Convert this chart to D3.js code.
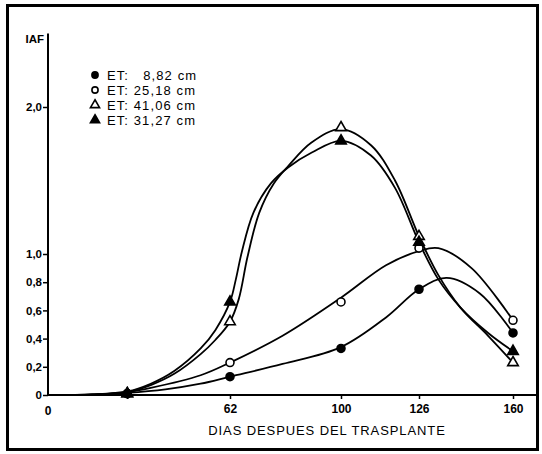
<!DOCTYPE html>
<html><head><meta charset="utf-8">
<script src="https://cdn.jsdelivr.net/npm/d3@7"></script>
<style>
body{margin:0;background:#fff;}
svg{display:block;font-family:"Liberation Sans",Arial,Helvetica,sans-serif;}
</style></head>
<body><svg id="c" width="542" height="454"></svg>
<script>
// ---- data ----
const sampleDays = [27, 62, 100, 126, 160];
const seriesLabels = ["ET:   8,82 cm", "ET: 25,18 cm", "ET: 41,06 cm", "ET: 31,27 cm"];
const et882  = [0.01, 0.13, 0.33, 0.75, 0.44];
const et2518 = [0.01, 0.23, 0.66, 1.04, 0.53];
const et4106 = [0.01, 0.52, 1.86, 1.12, 0.23];
const et3127 = [0.01, 0.66, 1.77, 1.08, 0.31];

// hand-drawn fitted curves
const fitDays882  = [0, 15, 27, 40, 52, 62, 80, 100, 115, 126, 136, 148, 160];
const fitVals882  = [0, 0.003, 0.015, 0.04, 0.08, 0.13, 0.22, 0.34, 0.55, 0.75, 0.83, 0.72, 0.44];
const fitDays2518 = [0, 15, 27, 35, 52, 62, 80, 100, 115, 126, 133, 145, 160];
const fitVals2518 = [0, 0.003, 0.02, 0.05, 0.14, 0.23, 0.42, 0.69, 0.92, 1.02, 1.04, 0.9, 0.53];
const fitDays4106 = [0, 15, 27, 35, 43, 52, 57, 62, 65, 68, 72, 77, 82, 90, 100, 110, 118, 126, 133, 141, 151, 160];
const fitVals4106 = [0, 0.004, 0.02, 0.07, 0.15, 0.29, 0.39, 0.52, 0.68, 0.98, 1.28, 1.48, 1.6, 1.76, 1.85, 1.74, 1.5, 1.12, 0.85, 0.62, 0.42, 0.23];
const fitDays3127 = [0, 15, 27, 35, 43, 52, 57, 62, 64, 66, 70, 76, 82, 90, 100, 110, 118, 126, 133, 141, 151, 160];
const fitVals3127 = [0, 0.004, 0.025, 0.08, 0.17, 0.33, 0.46, 0.66, 0.82, 1.01, 1.28, 1.48, 1.59, 1.69, 1.77, 1.67, 1.45, 1.08, 0.82, 0.62, 0.44, 0.31];

const xTicks = [27, 62, 100, 126, 160];
const xTickLabels = ["", "62", "100", "126", "160"];
const yTicks = [0, 0.2, 0.4, 0.6, 0.8, 1.0, 2.0];
const yTickLabels = ["0", "0,2", "0,4", "0,6", "0,8", "1,0", "2,0"];
const xTitle = "DIAS DESPUES DEL TRASPLANTE";
const yTitle = "IAF";

// ---- drawing ----
const svg = d3.select("#c");
const x = d3.scaleLinear().domain([0, 62, 100, 126, 160]).range([48, 230, 341, 419, 513]);
const y = d3.scaleLinear().domain([0, 1, 2]).range([395, 254, 107]);

// frame
svg.append("rect").attr("x", 7.5).attr("y", 5.5).attr("width", 530).attr("height", 444)
  .attr("fill", "none").attr("stroke", "#000").attr("stroke-width", 3);

// y axis
const yAxis = d3.axisLeft(y).tickValues(yTicks).tickSize(5)
  .tickFormat((d, i) => yTickLabels[i]);
const gy = svg.append("g").attr("transform", "translate(48,0)").call(yAxis);
gy.select(".domain").remove();
gy.selectAll(".tick line").attr("stroke", "#000").attr("stroke-width", 1.5);
gy.selectAll(".tick text").attr("x", -6).attr("font-size", 11.5).attr("font-weight", "bold")
  .attr("font-family", "Liberation Sans, Arial, sans-serif").attr("fill", "#000");
svg.append("line").attr("x1", 48).attr("x2", 48).attr("y1", y(0)).attr("y2", y(2.5))
  .attr("stroke", "#000").attr("stroke-width", 2);

// x axis
const xAxis = d3.axisBottom(x).tickValues(xTicks).tickSize(4)
  .tickFormat((d, i) => xTickLabels[i]);
const gx = svg.append("g").attr("transform", `translate(0,${y(0)})`).call(xAxis);
gx.select(".domain").remove();
gx.selectAll(".tick line").attr("stroke", "#000").attr("stroke-width", 1.5);
gx.selectAll(".tick text").attr("y", 9).attr("font-size", 12).attr("font-weight", "bold")
  .attr("font-family", "Liberation Sans, Arial, sans-serif").attr("fill", "#000");
svg.append("line").attr("x1", 48).attr("x2", 538).attr("y1", y(0)).attr("y2", y(0))
  .attr("stroke", "#000").attr("stroke-width", 2);
svg.append("text").attr("x", x(0)).attr("y", y(0) + 20).attr("text-anchor", "middle")
  .attr("font-size", 12).attr("font-weight", "bold").text("0");

svg.append("text").attr("x", 327).attr("y", 435).attr("text-anchor", "middle")
  .attr("font-size", 13).attr("letter-spacing", 0.9).text(xTitle);
svg.append("text").attr("x", 44).attr("y", 43).attr("text-anchor", "end")
  .attr("font-size", 11.5).attr("font-weight", "bold").text(yTitle);

// curves
const line = d3.line().x(d => x(d[0])).y(d => y(d[1])).curve(d3.curveCatmullRom.alpha(0.5));
const fits = [[fitDays882, fitVals882], [fitDays2518, fitVals2518], [fitDays4106, fitVals4106], [fitDays3127, fitVals3127]];
fits.forEach(([ds, vs]) => {
  svg.append("path").datum(ds.map((d, i) => [d, vs[i]])).attr("d", line)
    .attr("fill", "none").attr("stroke", "#000").attr("stroke-width", 1.8);
});

// markers
const circ = d3.symbol().type(d3.symbolCircle).size(50);
const tri = d3.symbol().type(d3.symbolTriangle).size(48);
const styles = [
  {sym: circ, fill: "#000"},
  {sym: circ, fill: "#fff"},
  {sym: tri, fill: "#fff"},
  {sym: tri, fill: "#000"}
];
const seriesVals = [et882, et2518, et4106, et3127];
seriesVals.forEach((vals, si) => {
  svg.append("g").selectAll("path").data(sampleDays.map((d, i) => [d, vals[i]])).join("path")
    .attr("d", styles[si].sym).attr("transform", d => `translate(${x(d[0])},${y(d[1])})`)
    .attr("fill", styles[si].fill).attr("stroke", "#000").attr("stroke-width", 1.6);
});

// legend
const legY = [75, 90, 105, 120];
seriesLabels.forEach((lab, i) => {
  const sz = i < 2 ? 30 : 36;
  const sym = (i < 2 ? d3.symbol().type(d3.symbolCircle) : d3.symbol().type(d3.symbolTriangle)).size(sz);
  svg.append("path").attr("d", sym).attr("transform", `translate(95,${legY[i]})`)
    .attr("fill", styles[i].fill).attr("stroke", "#000").attr("stroke-width", 1.6);
  svg.append("text").attr("x", 107).attr("y", legY[i] + 4.5).attr("font-size", 13)
    .attr("letter-spacing", 1.1).style("white-space", "pre").text(lab);
});
</script></body></html>
